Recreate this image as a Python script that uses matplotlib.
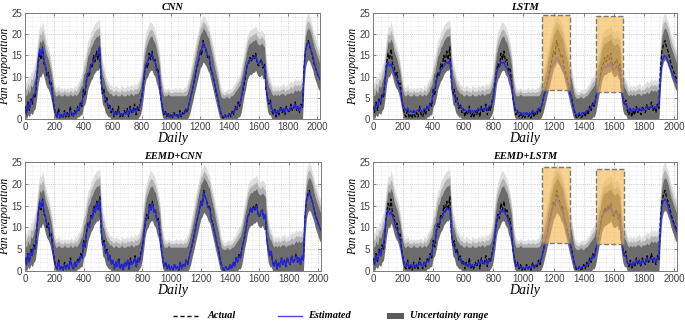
import numpy as np
import matplotlib
matplotlib.use("Agg")
import matplotlib.pyplot as plt
from matplotlib.patches import Rectangle
from matplotlib.lines import Line2D
from matplotlib.ticker import MultipleLocator

# ---------------- data (one value every 10 days) ----------------
days = np.arange(0, 2041, 10)

actual = [
    3.0, 1.5, 4.0, 2.0, 5.0, 3.5, 6.0, 5.0, 9.0, 13.0,
    15.5, 14.0, 16.5, 13.0, 12.5, 10.0, 11.0, 8.0, 8.5, 5.0,
    3.0, 1.0, 0.5, 2.5, 0.3, 1.0, 0.2, 2.0, 0.5, 1.5,
    0.5, 3.0, 1.0, 0.5, 2.0, 1.0, 3.0, 2.0, 4.0, 3.0,
    7.0, 5.5, 9.0, 11.0, 10.0, 13.0, 12.0, 15.0, 13.5, 16.0,
    14.0, 17.0, 9.0, 6.0, 7.0, 4.0, 5.0, 2.5, 3.5, 1.5,
    2.5, 0.5, 2.0, 1.0, 3.0, 0.5, 1.5, 0.3, 2.0, 1.0,
    2.5, 0.5, 3.0, 1.5, 2.0, 3.5, 1.0, 3.0, 2.0, 4.0,
    5.5, 8.0, 11.0, 13.0, 12.0, 15.5, 14.0, 16.0, 13.5, 14.0,
    11.5, 12.0, 9.0, 5.0, 3.0, 1.0, 2.0, 0.5, 1.5, 0.2,
    1.0, 0.3, 1.5, 0.5, 1.0, 0.2, 2.0, 0.5, 1.5, 1.0,
    2.5, 1.5, 3.0, 4.5, 6.0, 7.5, 9.0, 11.0, 12.5, 14.0,
    16.0, 15.0, 18.5, 17.0, 16.0, 14.5, 15.0, 12.0, 11.0, 9.5,
    8.0, 6.0, 5.0, 3.0, 1.5, 0.5, 0.2, 1.0, 0.3, 0.5,
    1.5, 0.5, 2.0, 1.0, 3.0, 2.0, 4.0, 3.0, 5.0, 6.5,
    8.0, 10.0, 12.5, 13.0, 14.5, 13.5, 15.0, 14.0, 15.5, 13.0,
    12.5, 13.5, 14.0, 12.0, 13.0, 7.0, 5.0, 3.5, 4.5, 2.0,
    1.0, 2.5, 0.5, 2.0, 1.0, 3.0, 1.5, 2.5, 1.0, 3.0,
    2.0, 1.5, 3.5, 2.0, 2.5, 4.0, 2.0, 3.0, 1.5, 3.5,
    2.5, 12.0, 16.0, 17.5, 18.5, 17.0, 16.0, 14.5, 13.0, 12.0,
    11.0, 10.0, 9.5, 8.5, 8.0,
]

est_cnn = [
    2.5, 1.0, 3.5, 2.5, 4.5, 4.0, 5.5, 6.0, 10.0, 14.0,
    16.5, 15.0, 17.0, 14.0, 12.0, 11.0, 10.0, 9.0, 7.5, 5.5,
    2.5, 1.5, 0.5, 1.5, 0.5, 1.0, 0.5, 1.5, 0.8, 1.2,
    1.0, 2.0, 1.5, 0.8, 1.5, 1.2, 2.5, 2.0, 3.5, 3.5,
    6.0, 6.5, 8.5, 10.5, 11.0, 12.5, 13.0, 14.0, 14.5, 15.0,
    15.0, 17.0, 10.0, 6.5, 6.0, 4.5, 4.0, 3.0, 3.0, 2.0,
    2.0, 1.0, 1.5, 1.2, 2.0, 1.0, 1.0, 0.8, 1.5, 1.2,
    2.0, 1.0, 2.5, 2.0, 1.5, 2.5, 1.5, 2.5, 2.5, 3.5,
    5.0, 8.5, 11.5, 13.0, 13.5, 15.0, 15.0, 15.5, 14.0, 13.5,
    12.0, 11.0, 9.0, 5.5, 3.0, 1.5, 1.5, 0.8, 1.0, 0.5,
    0.8, 0.5, 1.0, 0.8, 0.8, 0.5, 1.5, 0.8, 1.2, 1.2,
    2.0, 2.0, 3.0, 4.5, 6.0, 7.5, 9.5, 11.0, 13.0, 14.5,
    16.0, 16.5, 18.0, 17.0, 16.5, 15.0, 14.5, 12.5, 11.0, 9.5,
    8.0, 6.5, 5.0, 3.0, 1.5, 0.8, 0.5, 0.8, 0.5, 0.8,
    1.2, 1.0, 1.5, 1.5, 2.5, 2.5, 3.5, 3.5, 5.0, 7.0,
    9.0, 10.5, 12.5, 13.5, 14.0, 14.0, 14.5, 14.5, 15.0, 13.5,
    13.0, 13.5, 13.5, 12.5, 12.5, 7.5, 5.0, 4.0, 4.0, 2.5,
    1.5, 2.0, 1.0, 2.0, 1.5, 2.5, 2.0, 2.5, 1.5, 2.5,
    2.0, 2.0, 3.0, 2.5, 2.5, 3.5, 2.5, 3.0, 2.0, 3.0,
    3.0, 11.0, 16.0, 17.5, 18.0, 17.5, 16.0, 15.0, 13.5, 12.0,
    11.0, 10.0, 9.5, 9.0, 8.0,
]

est_lstm = [
    3.0, 2.0, 3.5, 3.0, 4.5, 4.0, 5.0, 6.0, 9.0, 12.0,
    13.5, 12.5, 13.0, 12.0, 11.0, 10.0, 9.0, 8.0, 7.0, 5.0,
    3.0, 2.5, 2.0, 2.5, 1.5, 2.0, 1.5, 2.0, 1.5, 2.0,
    2.0, 2.5, 2.0, 1.5, 2.5, 2.0, 3.0, 2.5, 3.5, 4.0,
    6.0, 7.0, 8.5, 10.0, 10.5, 11.5, 12.0, 12.5, 13.0, 13.5,
    13.0, 14.0, 9.5, 6.0, 5.5, 4.5, 4.0, 3.0, 3.0, 2.5,
    2.5, 2.0, 2.0, 1.5, 2.5, 1.5, 2.0, 1.5, 2.0, 2.0,
    2.5, 2.0, 2.5, 2.5, 2.0, 3.0, 2.0, 3.0, 3.0, 3.5,
    5.0, 8.0, 10.5, 12.0, 12.5, 13.5, 13.0, 13.5, 12.5, 12.0,
    11.0, 10.0, 8.5, 5.0, 3.0, 2.0, 2.0, 1.5, 1.5, 1.0,
    1.5, 1.0, 1.5, 1.0, 1.5, 1.0, 2.0, 1.5, 1.5, 2.0,
    2.5, 2.5, 3.0, 4.5, 6.0, 7.0, 8.5, 10.0, 11.5, 12.5,
    13.0, 13.5, 14.5, 14.0, 13.5, 12.5, 12.5, 11.0, 10.0, 9.0,
    7.5, 6.0, 4.5, 3.0, 2.0, 1.0, 1.0, 1.5, 0.8, 1.5,
    1.5, 1.5, 2.0, 2.0, 2.5, 2.5, 3.5, 3.5, 4.5, 6.5,
    8.0, 9.5, 11.0, 12.0, 12.5, 12.0, 13.0, 12.5, 13.5, 12.0,
    11.5, 12.0, 12.5, 11.5, 11.0, 7.0, 4.5, 3.5, 3.5, 2.5,
    2.0, 2.5, 1.5, 2.5, 2.0, 2.5, 2.0, 2.5, 2.0, 2.5,
    2.0, 2.5, 3.0, 2.5, 2.5, 3.0, 2.5, 3.0, 2.5, 3.0,
    3.0, 9.5, 13.5, 14.5, 15.0, 14.5, 13.5, 12.5, 11.5, 10.5,
    10.0, 9.0, 8.5, 8.0, 7.5,
]

est_eemd_cnn = [
    3.0, 1.5, 4.0, 2.0, 4.5, 3.5, 5.5, 5.0, 9.5, 13.5,
    16.0, 14.5, 16.5, 13.5, 12.5, 10.5, 10.5, 8.5, 8.0, 5.0,
    2.5, 1.0, 0.5, 2.0, 0.3, 1.0, 0.3, 1.5, 0.5, 1.5,
    0.5, 2.5, 1.0, 0.5, 2.0, 1.0, 2.5, 2.0, 3.5, 3.0,
    6.5, 5.5, 8.5, 10.5, 10.0, 12.5, 12.0, 14.5, 13.5, 15.5,
    14.0, 16.5, 9.0, 6.0, 6.5, 4.0, 4.5, 2.5, 3.5, 1.5,
    2.5, 0.5, 2.0, 1.0, 2.5, 0.5, 1.5, 0.3, 2.0, 1.0,
    2.5, 0.5, 2.5, 1.5, 2.0, 3.0, 1.0, 3.0, 2.0, 3.5,
    5.0, 8.0, 11.0, 12.5, 12.5, 15.0, 14.0, 15.5, 13.5, 14.0,
    11.5, 11.5, 8.5, 5.0, 3.0, 1.0, 2.0, 0.5, 1.5, 0.3,
    1.0, 0.3, 1.5, 0.5, 1.0, 0.3, 2.0, 0.5, 1.5, 1.0,
    2.5, 1.5, 3.0, 4.5, 6.0, 7.5, 9.0, 11.0, 12.5, 14.0,
    16.0, 15.0, 18.0, 17.0, 16.0, 14.5, 14.5, 12.0, 11.0, 9.5,
    8.0, 6.0, 5.0, 3.0, 1.5, 0.5, 0.3, 1.0, 0.3, 0.5,
    1.5, 0.5, 2.0, 1.0, 3.0, 2.0, 3.5, 3.0, 5.0, 6.5,
    8.5, 10.0, 12.5, 13.0, 14.5, 13.5, 14.5, 14.0, 15.0, 13.0,
    12.5, 13.5, 14.0, 12.0, 13.0, 7.0, 5.0, 3.5, 4.5, 2.0,
    1.0, 2.5, 0.5, 2.0, 1.0, 3.0, 1.5, 2.5, 1.0, 3.0,
    2.0, 1.5, 3.5, 2.0, 2.5, 3.5, 2.0, 3.0, 1.5, 3.5,
    2.5, 12.0, 16.0, 17.0, 18.0, 17.0, 16.0, 14.5, 13.0, 12.0,
    11.0, 10.0, 9.5, 8.5, 8.0,
]

est_eemd_lstm = [
    2.5, 1.5, 3.5, 2.5, 4.5, 3.5, 5.0, 5.5, 9.5, 12.5,
    14.0, 13.0, 13.5, 12.5, 11.5, 10.0, 9.5, 8.0, 7.0, 5.0,
    2.5, 1.5, 1.0, 2.0, 0.8, 1.5, 0.8, 1.5, 1.0, 1.5,
    1.0, 2.0, 1.5, 1.0, 2.0, 1.5, 2.5, 2.0, 3.5, 3.5,
    6.0, 6.5, 8.5, 10.5, 11.0, 12.0, 12.5, 13.5, 13.5, 14.5,
    14.0, 14.5, 9.5, 6.0, 5.5, 4.5, 4.0, 3.0, 3.0, 2.0,
    2.0, 1.5, 1.5, 1.0, 2.0, 1.0, 1.5, 1.0, 1.5, 1.5,
    2.0, 1.5, 2.5, 2.0, 1.5, 2.5, 1.5, 2.5, 2.5, 3.5,
    5.0, 8.0, 11.0, 12.5, 13.0, 14.0, 13.5, 14.0, 13.0, 12.5,
    11.5, 10.5, 8.5, 5.0, 2.5, 1.0, 1.5, 0.8, 1.0, 0.5,
    0.8, 0.5, 1.0, 0.5, 1.0, 0.5, 1.5, 0.8, 1.2, 1.5,
    2.0, 2.0, 3.0, 4.5, 6.0, 7.5, 9.0, 11.0, 12.5, 14.0,
    15.0, 15.5, 16.5, 16.0, 15.5, 14.0, 14.0, 12.0, 10.5, 9.0,
    7.5, 6.0, 4.5, 3.0, 1.5, 0.8, 0.5, 1.0, 0.5, 1.0,
    1.0, 1.0, 1.5, 1.5, 2.5, 2.5, 3.5, 3.0, 4.5, 6.5,
    8.5, 10.0, 12.0, 13.0, 13.5, 13.5, 14.0, 14.0, 15.0, 13.5,
    13.0, 13.0, 13.5, 12.5, 12.0, 7.0, 4.5, 3.5, 3.5, 2.0,
    1.5, 2.0, 1.0, 2.0, 1.5, 2.5, 2.0, 2.5, 1.5, 2.5,
    2.0, 2.0, 3.0, 2.5, 2.5, 3.0, 2.5, 3.0, 2.0, 3.0,
    3.0, 10.5, 15.0, 16.0, 16.5, 16.0, 15.0, 13.5, 12.5, 11.5,
    10.5, 9.5, 9.0, 8.5, 8.0,
]

# uncertainty range: lower edge, top of dense core, top of faded tail
unc_low = [
    0.5, 0.0, 1.0, 0.5, 1.5, 1.0, 2.0, 2.5, 5.0, 8.0,
    10.0, 10.0, 11.0, 10.0, 8.5, 7.5, 7.0, 6.0, 4.5, 2.5,
    0.5, 0.0, 0.0, 0.0, 0.0, 0.0, 0.0, 0.0, 0.0, 0.0,
    0.0, 0.0, 0.0, 0.0, 0.0, 0.0, 0.5, 0.5, 1.0, 1.0,
    3.0, 3.5, 5.0, 7.0, 8.0, 9.0, 9.5, 10.5, 11.0, 11.5,
    11.5, 12.0, 6.5, 3.5, 3.0, 1.5, 1.0, 0.5, 0.5, 0.0,
    0.0, 0.0, 0.0, 0.0, 0.0, 0.0, 0.0, 0.0, 0.0, 0.0,
    0.0, 0.0, 0.0, 0.0, 0.0, 0.0, 0.0, 0.0, 0.5, 1.0,
    2.5, 5.0, 8.0, 9.5, 10.0, 11.0, 11.5, 11.5, 10.5, 10.0,
    8.5, 7.5, 5.5, 2.5, 0.5, 0.0, 0.0, 0.0, 0.0, 0.0,
    0.0, 0.0, 0.0, 0.0, 0.0, 0.0, 0.0, 0.0, 0.0, 0.0,
    0.0, 0.0, 0.5, 1.5, 3.0, 4.5, 6.0, 7.5, 9.0, 10.5,
    12.0, 12.5, 13.5, 13.0, 12.5, 11.5, 11.0, 9.5, 8.0, 6.5,
    5.0, 3.5, 2.0, 0.5, 0.0, 0.0, 0.0, 0.0, 0.0, 0.0,
    0.0, 0.0, 0.0, 0.0, 0.0, 0.0, 0.5, 0.5, 1.5, 3.5,
    5.5, 7.0, 9.0, 10.0, 10.5, 10.5, 11.0, 11.0, 11.5, 10.5,
    10.0, 10.0, 10.5, 9.5, 9.5, 4.5, 2.0, 1.0, 1.0, 0.0,
    0.0, 0.0, 0.0, 0.0, 0.0, 0.0, 0.0, 0.0, 0.0, 0.0,
    0.0, 0.0, 0.0, 0.0, 0.0, 0.0, 0.0, 0.0, 0.0, 0.0,
    0.0, 7.5, 12.0, 13.5, 14.0, 13.5, 12.5, 11.5, 10.0, 9.0,
    8.0, 7.0, 6.5, 6.0, 5.5,
]

unc_high = [
    6.0, 5.5, 7.0, 6.0, 8.0, 7.5, 9.0, 10.0, 13.0, 16.0,
    18.5, 18.0, 19.0, 18.0, 16.0, 15.0, 14.0, 12.5, 11.0, 8.5,
    6.5, 5.5, 5.5, 6.0, 5.5, 5.5, 5.5, 6.0, 5.5, 5.5,
    5.5, 6.0, 5.5, 5.5, 6.0, 5.5, 6.0, 6.5, 7.5, 8.0,
    10.5, 11.0, 13.0, 15.0, 15.5, 17.0, 17.5, 18.5, 19.0, 19.5,
    19.5, 20.0, 14.0, 10.5, 9.5, 8.0, 7.0, 6.5, 6.0, 6.0,
    5.5, 5.5, 6.0, 5.5, 5.5, 5.5, 6.0, 5.5, 5.5, 5.5,
    6.0, 5.5, 6.0, 6.0, 5.5, 6.0, 6.0, 6.0, 6.5, 7.5,
    9.5, 12.5, 15.5, 17.0, 18.0, 19.0, 19.5, 19.5, 18.5, 18.0,
    16.5, 15.0, 13.0, 9.0, 6.5, 5.5, 5.5, 5.5, 6.0, 5.5,
    5.5, 5.5, 5.5, 5.5, 5.5, 5.5, 5.5, 5.5, 5.5, 5.5,
    5.5, 6.0, 7.0, 8.5, 10.0, 11.5, 13.5, 15.0, 17.0, 18.5,
    20.0, 20.5, 21.5, 21.0, 20.5, 19.5, 19.0, 17.0, 15.5, 14.0,
    12.0, 10.5, 9.0, 7.0, 5.5, 5.0, 5.0, 5.0, 5.5, 5.0,
    5.0, 5.5, 5.5, 6.0, 6.5, 7.0, 7.5, 8.0, 9.5, 11.0,
    13.0, 14.5, 16.5, 17.5, 18.0, 18.0, 18.5, 18.5, 19.0, 18.0,
    17.5, 17.5, 18.0, 17.5, 17.0, 12.0, 9.0, 7.5, 7.0, 6.0,
    5.5, 6.0, 5.5, 6.0, 5.5, 6.0, 6.0, 6.0, 5.5, 6.0,
    6.0, 6.0, 6.5, 6.0, 6.5, 7.0, 6.5, 7.0, 6.5, 7.0,
    7.0, 15.5, 19.5, 21.0, 21.5, 21.0, 20.0, 18.5, 17.0, 16.0,
    15.0, 14.0, 13.0, 12.0, 11.5,
]

unc_outer = [
    9.0, 8.5, 10.0, 9.5, 11.0, 11.0, 12.5, 13.5, 16.5, 19.5,
    22.0, 21.5, 23.0, 21.5, 19.5, 18.0, 17.0, 15.5, 13.5, 11.0,
    8.5, 7.5, 7.5, 8.0, 7.0, 7.5, 7.0, 7.5, 7.0, 7.5,
    7.0, 7.5, 7.5, 7.0, 8.0, 7.5, 8.5, 9.0, 10.0, 11.0,
    13.5, 14.5, 16.5, 18.5, 19.0, 20.5, 21.0, 22.0, 22.5, 23.0,
    23.0, 23.5, 17.0, 13.5, 12.5, 10.5, 9.5, 9.0, 8.0, 8.0,
    7.5, 7.5, 8.0, 7.5, 7.5, 7.0, 8.0, 7.5, 7.5, 7.5,
    8.0, 7.5, 8.0, 8.0, 7.5, 8.5, 8.0, 8.5, 9.0, 10.5,
    13.0, 16.0, 19.0, 20.5, 21.5, 22.5, 23.0, 22.5, 22.0, 21.0,
    19.5, 18.0, 16.0, 12.0, 9.0, 7.5, 7.0, 7.0, 7.5, 7.0,
    7.0, 7.0, 7.0, 7.5, 7.0, 7.0, 7.5, 7.0, 7.0, 7.5,
    7.5, 8.5, 9.5, 11.0, 13.0, 14.5, 16.5, 18.5, 20.0, 21.5,
    23.0, 23.5, 24.5, 24.0, 23.5, 22.5, 22.0, 20.0, 18.5, 17.0,
    15.0, 13.5, 12.0, 9.5, 7.5, 7.0, 6.5, 6.5, 7.0, 7.0,
    7.0, 7.0, 7.5, 8.0, 8.5, 9.5, 10.0, 10.5, 12.0, 14.0,
    16.0, 17.5, 19.5, 20.5, 21.0, 21.0, 21.5, 21.5, 22.0, 21.0,
    20.5, 20.5, 21.0, 20.5, 20.0, 15.0, 12.0, 10.0, 9.5, 8.0,
    7.5, 8.0, 7.5, 8.0, 7.5, 8.0, 8.0, 8.5, 7.5, 8.0,
    8.0, 8.5, 9.0, 8.5, 9.0, 9.5, 9.0, 9.5, 9.0, 9.5,
    10.0, 19.0, 23.0, 24.5, 25.0, 24.0, 23.0, 21.5, 20.0, 19.0,
    18.0, 17.0, 16.0, 15.0, 14.5,
]

titles = ["CNN", "LSTM", "EEMD+CNN", "EEMD+LSTM"]
estimates = [est_cnn, est_lstm, est_eemd_cnn, est_eemd_lstm]
# highlighted windows: (day start, day end, value low, value high)
highlights = [
    [],
    [(1126, 1311, 6.8, 24.5), (1484, 1662, 6.4, 24.2)],
    [],
    [(1126, 1311, 6.5, 23.9), (1484, 1670, 6.1, 23.3)],
]
legend_labels = ["Actual", "Estimated", "Uncertainty range"]

for arr in [actual, est_cnn, est_lstm, est_eemd_cnn, est_eemd_lstm, unc_low, unc_high, unc_outer]:
    assert len(arr) == len(days), len(arr)

low = np.asarray(unc_low)
high = np.asarray(unc_high)
outer = np.asarray(unc_outer)

# ---------------- figure ----------------
W, H = 685, 322
fig = plt.figure(figsize=(W / 100, H / 100), dpi=100)

def frac(l, t, r, b):
    return [l / W, 1 - b / H, (r - l) / W, (b - t) / H]

rects = [frac(25, 13, 320, 119), frac(373, 13, 677, 119),
         frac(25, 162, 321, 271), frac(373, 162, 677, 271)]

serif = "Liberation Serif"
blue = "#2323e8"
tick_col = "#404040"

for rect, title, est, boxes in zip(rects, titles, estimates, highlights):
    ax = fig.add_axes(rect)
    # faded tail of the uncertainty range (light outer, medium inner half)
    ax.fill_between(days, high, outer, color="#dedede", lw=0, zorder=1)
    ax.fill_between(days, high, (high + outer) / 2, color="#b3b3b3", lw=0, zorder=1.5)
    ax.fill_between(days, low, high, color="#6c6c6c", lw=0, zorder=2)
    ax.plot(days, actual, color="black", ls=(0, (3, 1.5)), lw=0.9, zorder=3)
    ax.plot(days, est, color=blue, lw=0.9, zorder=4)
    for (x0, x1, y0, y1) in boxes:
        ax.add_patch(Rectangle((x0, y0), x1 - x0, y1 - y0,
                               facecolor=(0.96, 0.72, 0.30, 0.62),
                               edgecolor="#7a7a7a", ls="--", lw=1.0, zorder=5))
    ax.set_xlim(0, 2020)
    ax.set_ylim(0, 25)
    ax.set_xticks(np.arange(0, 2001, 200))
    ax.set_yticks(np.arange(0, 26, 5))
    ax.xaxis.set_minor_locator(MultipleLocator(50))
    ax.yaxis.set_minor_locator(MultipleLocator(1))
    ax.grid(which="major", ls=":", color="#a8a8a8", lw=0.5, zorder=0)
    ax.grid(which="minor", ls=":", color="#d4d4d4", lw=0.4, zorder=0)
    ax.set_axisbelow(True)
    ax.tick_params(which="both", direction="in", top=True, right=True,
                   color="#555555", labelsize=7, labelcolor=tick_col, pad=2)
    ax.tick_params(which="major", length=2.5, width=0.5)
    ax.tick_params(which="minor", length=0)
    for lab in ax.get_xticklabels() + ax.get_yticklabels():
        lab.set_family("Liberation Sans")
    for sp in ax.spines.values():
        sp.set_color("#7a7a7a")
        sp.set_linewidth(0.7)
    ax.set_title(title, family=serif, style="italic", weight="bold", size=7.5, pad=2.5)
    ax.set_xlabel("Daily", family=serif, style="italic", size=10, labelpad=0)
    ax.set_ylabel("Pan evaporation", family=serif, style="italic", size=8.3, labelpad=0)

# ---------------- legend row (drawn in figure pixels) ----------------
ly = 1 - 316 / H
def fx(px):
    return px / W
leg_font = dict(family=serif, style="italic", weight="bold", size=7.5, va="center", ha="left")
fig.add_artist(Line2D([fx(173), fx(200)], [ly, ly], transform=fig.transFigure,
                      color="black", ls=(0, (3, 2)), lw=1.0))
fig.text(fx(208), ly, legend_labels[0], **leg_font)
fig.add_artist(Line2D([fx(278), fx(302)], [ly, ly], transform=fig.transFigure,
                      color="#5a3ee0", lw=1.0))
fig.text(fx(308), ly, legend_labels[1], **leg_font)
fig.add_artist(Rectangle((fx(387), ly - 3 / H), fx(17), 6 / H, transform=fig.transFigure,
                         facecolor="#5c5c5c", edgecolor="none"))
fig.text(fx(410), ly, legend_labels[2], **leg_font)

fig.savefig("out.png", dpi=100)
